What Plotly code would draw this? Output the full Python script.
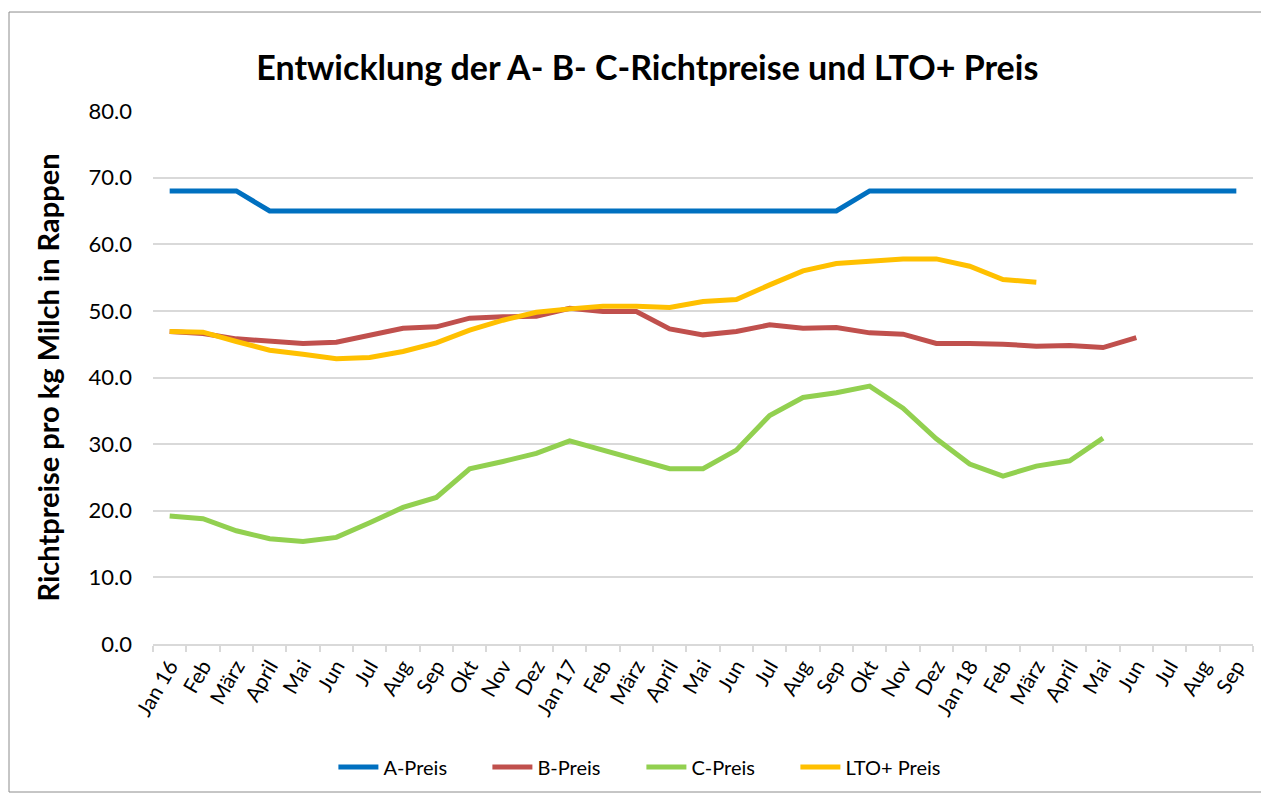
import plotly.graph_objects as go

months = ["Jan 16", "Feb", "März", "April", "Mai", "Jun", "Jul", "Aug", "Sep", "Okt", "Nov", "Dez",
          "Jan 17", "Feb", "März", "April", "Mai", "Jun", "Jul", "Aug", "Sep", "Okt", "Nov", "Dez",
          "Jan 18", "Feb", "März", "April", "Mai", "Jun", "Jul", "Aug", "Sep"]

a_preis = [68, 68, 68, 65, 65, 65, 65, 65, 65, 65, 65, 65,
           65, 65, 65, 65, 65, 65, 65, 65, 65, 68, 68, 68,
           68, 68, 68, 68, 68, 68, 68, 68, 68]
b_preis = [46.9, 46.6, 45.8, 45.4, 45.1, 45.3, 46.4, 47.4, 47.6, 48.9, 49.1, 49.2,
           50.4, 49.9, 49.9, 47.3, 46.4, 46.9, 47.9, 47.4, 47.5, 46.7, 46.5, 45.1,
           45.1, 45.0, 44.7, 44.8, 44.5, 46.0]
c_preis = [19.2, 18.8, 17.0, 15.8, 15.4, 16.0, 18.2, 20.5, 22.0, 26.3, 27.4, 28.6,
           30.5, 29.1, 27.8, 26.3, 26.3, 29.1, 34.3, 37.0, 37.7, 38.7, 35.4, 30.8,
           27.0, 25.2, 26.7, 27.5, 30.9]
lto_preis = [46.9, 46.8, 45.4, 44.1, 43.5, 42.8, 43.0, 43.9, 45.2, 47.1, 48.6, 49.8,
             50.3, 50.7, 50.7, 50.5, 51.4, 51.7, 53.9, 56.0, 57.1, 57.5, 57.8, 57.8,
             56.7, 54.7, 54.3]

series = [("A-Preis", a_preis, "#0070C0"),
          ("B-Preis", b_preis, "#C0504D"),
          ("C-Preis", c_preis, "#92D050"),
          ("LTO+ Preis", lto_preis, "#FFC000")]

fig = go.Figure()
for name, vals, col in series:
    fig.add_trace(go.Scatter(x=list(range(len(vals))), y=vals, mode="lines", name=name,
                             line=dict(color=col, width=5), hoverinfo="x+y+name"))

font_family = "Lato, Open Sans, sans-serif"
fig.update_layout(
    width=1261, height=790,
    paper_bgcolor="white", plot_bgcolor="white",
    margin=dict(l=145, r=16, t=103, b=154),
    title=dict(text="<b>Entwicklung der A- B- C-Richtpreise und LTO+ Preis</b>",
               x=0.507, xanchor="center", y=0.924, yanchor="middle",
               font=dict(family=font_family, size=34, color="black")),
    font=dict(family=font_family, color="black"),
    legend=dict(orientation="h", x=0.444, xanchor="center", y=-0.2308, yanchor="middle",
                font=dict(size=20, color="black"), itemwidth=40, tracegroupgap=0,
                entrywidth=99, entrywidthmode="pixels"),
    showlegend=True,
    shapes=[dict(type="rect", xref="paper", yref="paper",
                 x0=-0.1309, x1=1.01, y0=-0.2777, y1=1.1857,
                 line=dict(color="#8c8c8c", width=1), layer="below")],
)
fig.update_xaxes(
    range=[-0.5, 32.5], tickmode="array", tickvals=list(range(len(months))), ticktext=months,
    tickangle=-60, ticks="", showgrid=False, zeroline=False,
    showline=True, linecolor="#d9d9d9", linewidth=1.5,
    tickfont=dict(size=21, color="black"),
    minor=dict(ticks="outside", tick0=0.5, dtick=1, ticklen=6, tickcolor="#d9d9d9",
               tickwidth=1.5, showgrid=False),
)
fig.update_yaxes(
    range=[0, 80], tickmode="array", tickvals=[0, 10, 20, 30, 40, 50, 60, 70, 80],
    tickformat=".1f", showgrid=True, gridcolor="#d9d9d9", gridwidth=1.5,
    zeroline=False, showline=False, ticks="", ticklabelstandoff=20,
    tickfont=dict(size=22, color="black"),
    title=dict(text="<b>Richtpreise pro kg Milch in Rappen</b>", standoff=20,
               font=dict(size=29, color="black")),
)

fig.write_html("out.html")
